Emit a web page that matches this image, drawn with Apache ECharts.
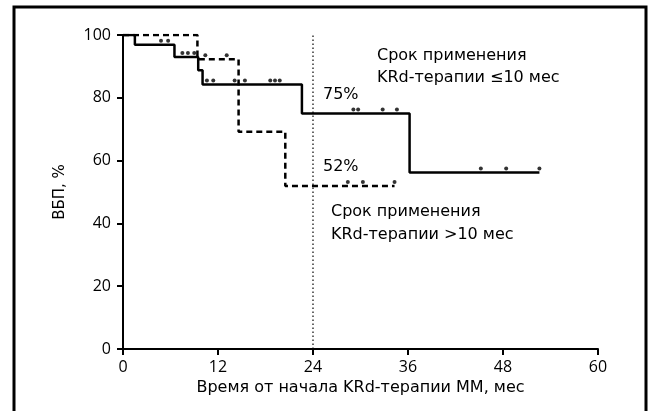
<!DOCTYPE html>
<html>
<head>
<meta charset="utf-8">
<script src="https://cdn.jsdelivr.net/npm/echarts@6/dist/echarts.min.js"></script>
<style>html,body{margin:0;padding:0;background:#fff}#c{width:649px;height:411px}</style>
</head>
<body>
<div id="c"></div>
<script>
// Kaplan-Meier steps: [month, %]
const shortSteps = [[0,100],[1.5,96.9],[6.5,93.0],[9.5,88.8],[10.05,84.2],[22.6,75.0],[36.2,56.2],[52.6,56.2]];
const longSteps  = [[0,100],[9.4,92.3],[14.6,69.2],[20.5,51.9],[34.3,51.9]];
// censored observations
const shortCensored = [[4.8,96.9],[5.7,96.9],[7.5,93.0],[8.2,93.0],[9.0,93.0],
  [10.6,84.2],[11.4,84.2],[14.1,84.2],[15.4,84.2],[18.6,84.2],[19.2,84.2],[19.8,84.2],
  [29.1,75.0],[29.7,75.0],[32.8,75.0],[34.6,75.0],
  [45.2,56.2],[48.4,56.2],[52.6,56.2]];
const longCensored = [[10.4,92.3],[13.1,92.3],[28.4,51.9],[30.3,51.9],[34.3,51.9]];
const refLine = [[24,0],[24,100]];
const xTicks = {min:0,max:60,interval:12};
const yTicks = {min:0,max:100,interval:20};
const labels = {
  xName: 'Время от начала KRd-терапии MM, мес',
  yName: 'ВБП, %',
  short: ['Срок применения','KRd-терапии ≤10 мес'],
  long: ['Срок применения','KRd-терапии >10 мес'],
  shortPct: '75%',
  longPct: '52%'
};

const FONT = 'Open Sans';
const TFONT = 'DejaVu Sans';
const chart = echarts.init(document.getElementById('c'), null, {renderer:'canvas'});
const axisLine = {show:true,onZero:false,lineStyle:{color:'#000',width:2}};
const axisTick = {show:true,inside:false,length:6,lineStyle:{color:'#000',width:2}};
const nameStyle = {color:'#000',fontSize:16,fontFamily:TFONT};
const txt = (x,y,t)=>({type:'text',left:x,top:y,style:{text:t,fill:'#000',font:'16px "'+TFONT+'"'}});
chart.setOption({
  animation:false,
  backgroundColor:'#fff',
  grid:{left:123,right:51,top:35,bottom:62},
  xAxis:{type:'value',min:xTicks.min,max:xTicks.max,interval:xTicks.interval,
    name:labels.xName,nameLocation:'middle',nameGap:26,nameTextStyle:nameStyle,
    axisLine:axisLine,axisTick:axisTick,splitLine:{show:false},
    axisLabel:{color:'#000',fontSize:16,fontFamily:FONT,margin:10}},
  yAxis:{type:'value',min:yTicks.min,max:yTicks.max,interval:yTicks.interval,
    name:labels.yName,nameLocation:'middle',nameGap:55,nameRotate:90,
    nameTextStyle:{color:'#000',fontSize:15,fontFamily:TFONT},
    axisLine:axisLine,axisTick:axisTick,splitLine:{show:false},
    axisLabel:{color:'#000',fontSize:16,fontFamily:FONT,margin:12}},
  graphic:[
    {type:'rect',shape:{x:14,y:7,width:632,height:420},style:{fill:'none',stroke:'#000',lineWidth:3},silent:true},
    txt(377,48,labels.short[0]), txt(377,70,labels.short[1]),
    txt(323,87,labels.shortPct), txt(323,159,labels.longPct),
    txt(331,204,labels.long[0]), txt(331,227,labels.long[1])
  ],
  series:[
    {type:'line',data:refLine,showSymbol:false,lineStyle:{color:'#000',width:1.2,type:[1.5,2.5]},silent:true},
    {type:'line',step:'end',data:longSteps,showSymbol:false,lineStyle:{color:'#000',width:2.5,type:[6,4]}},
    {type:'line',step:'end',data:shortSteps,showSymbol:false,lineStyle:{color:'#000',width:2.5}},
    {type:'scatter',data:shortCensored,symbol:'circle',symbolSize:4,symbolOffset:[0,-4],itemStyle:{color:'#000'}},
    {type:'scatter',data:longCensored,symbol:'circle',symbolSize:4,symbolOffset:[0,-4],itemStyle:{color:'#000'}}
  ]
});
</script>
</body>
</html>
